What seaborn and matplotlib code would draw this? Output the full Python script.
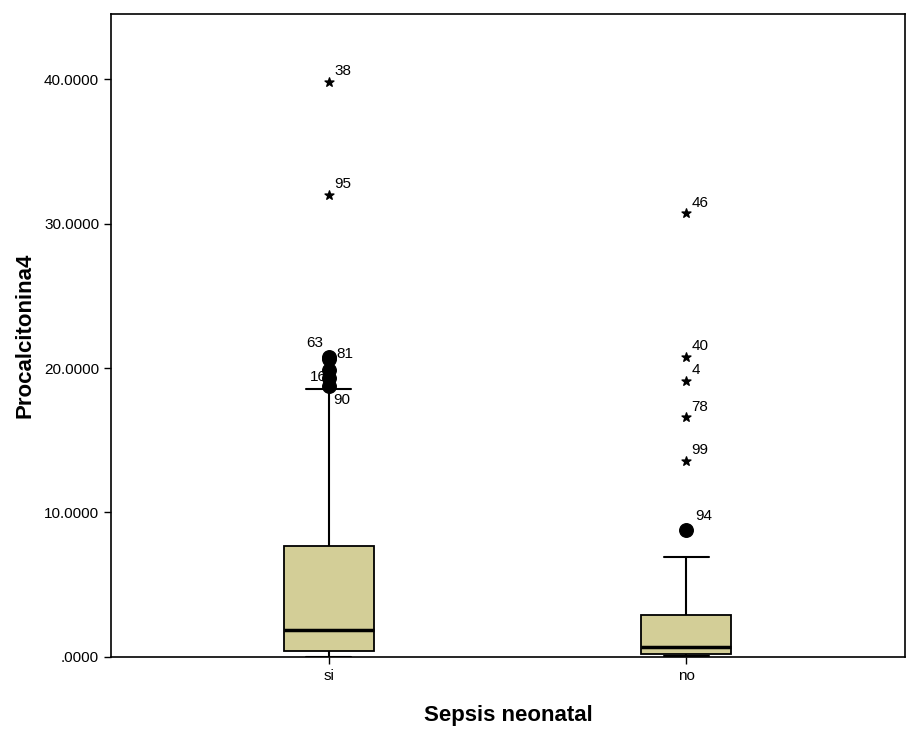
import pandas as pd
import numpy as np
import matplotlib
matplotlib.use("Agg")
import matplotlib.pyplot as plt
from matplotlib.ticker import FuncFormatter
import seaborn as sns

# box summary: min whisker, Q1, median, Q3, max whisker
groups = ["si", "no"]
si_box = [0.02, 0.42, 1.87, 7.68, 18.55]
no_box = [0.05, 0.22, 0.72, 2.90, 6.92]

# outliers (value, case label)
si_circles = [20.76, 20.60, 19.86, 19.30, 18.75]
si_circle_ids = ["63", "81", "16", "", "90"]
si_stars = [39.80, 32.00]
si_star_ids = ["38", "95"]
no_circles = [8.79]
no_circle_ids = ["94"]
no_stars = [30.70, 20.76, 19.10, 16.60, 13.56]
no_star_ids = ["46", "40", "4", "78", "99"]

sns.set_style("white")
plt.rcParams["font.family"] = ["Liberation Sans", "DejaVu Sans"]
plt.rcParams["text.color"] = "black"
plt.rcParams["axes.labelcolor"] = "black"
plt.rcParams["xtick.color"] = "black"
plt.rcParams["ytick.color"] = "black"

df = pd.DataFrame({
    "grupo": ["si"] * len(si_box) + ["no"] * len(no_box),
    "valor": si_box + no_box,
})

fig = plt.figure(figsize=(9.07, 7.40), dpi=100)
ax = fig.add_axes([0.1224, 0.1122, 0.8756, 0.8688])

sns.boxplot(data=df, x="grupo", y="valor", order=groups, whis=(0, 100),
            showfliers=False, width=0.252, color="#D3CE97", saturation=1,
            linecolor="black", linewidth=1.3,
            medianprops=dict(color="black", linewidth=2.5),
            capprops=dict(color="black", linewidth=1.5),
            whiskerprops=dict(color="black", linewidth=1.5),
            ax=ax)
# SPSS caps are half the box width
for line in ax.lines:
    xd = line.get_xdata()
    yd = line.get_ydata()
    if len(xd) == 2 and yd[0] == yd[1] and abs(xd[1] - xd[0]) > 0.1 and line.get_linewidth() == 1.5:
        c = (xd[0] + xd[1]) / 2
        line.set_xdata([c - 0.063, c + 0.063])

circ = pd.DataFrame({"x": [0] * len(si_circles) + [1] * len(no_circles),
                     "y": si_circles + no_circles})
star = pd.DataFrame({"x": [0] * len(si_stars) + [1] * len(no_stars),
                     "y": si_stars + no_stars})
ax.scatter(circ["x"], circ["y"], s=95, color="black", marker="o", zorder=5)
ax.scatter(star["x"], star["y"], s=45, color="black", marker="*", zorder=5)

fs = 11
for v, t in zip(si_stars, si_star_ids):
    ax.text(0.015, v + 0.25, t, fontsize=fs, ha="left", va="bottom")
for v, t in zip(no_stars, no_star_ids):
    ax.text(1.015, v + 0.25, t, fontsize=fs, ha="left", va="bottom")
ax.text(1.025, no_circles[0] + 0.5, no_circle_ids[0], fontsize=fs, ha="left", va="bottom")
ax.text(-0.015, si_circles[0] + 0.5, "63", fontsize=fs, ha="right", va="bottom")
ax.text(0.022, si_circles[1] - 0.1, "81", fontsize=fs, ha="left", va="bottom")
ax.text(-0.005, si_circles[2] - 1.0, "16", fontsize=fs, ha="right", va="bottom")
ax.text(0.012, si_circles[4] - 0.5, "90", fontsize=fs, ha="left", va="top")

ax.set_xlim(-0.61, 1.613)
ax.set_ylim(0, 44.5)
ax.set_yticks([0, 10, 20, 30, 40])
ax.yaxis.set_major_formatter(FuncFormatter(
    lambda v, p: ".0000" if v == 0 else f"{v:.4f}"))
ax.tick_params(axis="both", direction="out", length=5, width=1, color="black",
               labelsize=11, left=True, bottom=True)
for s in ax.spines.values():
    s.set_visible(True)
    s.set_color("black")
    s.set_linewidth(1.2)

ax.set_xlabel("Sepsis neonatal", fontsize=16, fontweight="bold", labelpad=16)
ax.set_ylabel("Procalcitonina4", fontsize=16, fontweight="bold", labelpad=6)

fig.savefig("out.png", dpi=100)
